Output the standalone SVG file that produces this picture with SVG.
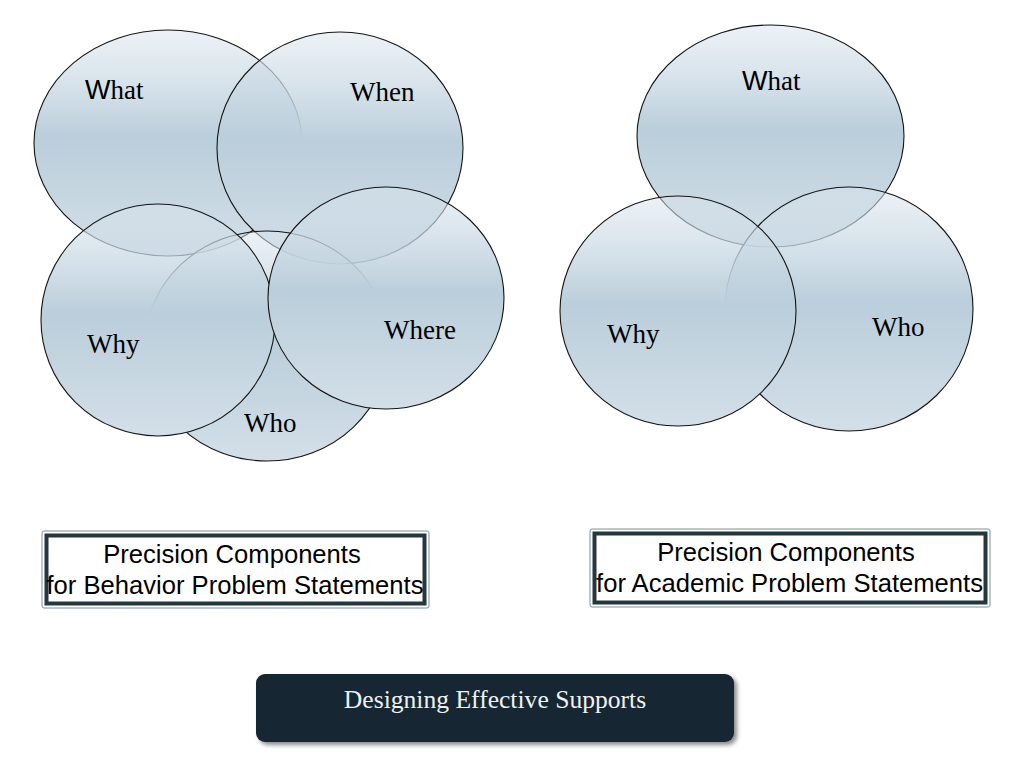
<svg xmlns="http://www.w3.org/2000/svg" width="1024" height="768" viewBox="0 0 1024 768">
<defs>
<linearGradient id="vfill" x1="0" y1="0" x2="0" y2="1">
<stop offset="0" stop-color="#d9e4ed" stop-opacity="0.5"/>
<stop offset="0.47" stop-color="#bacedb" stop-opacity="1"/>
<stop offset="1" stop-color="#d3dfe8" stop-opacity="1"/>
</linearGradient>
<filter id="shadow" x="-5%" y="-20%" width="112%" height="150%">
<feDropShadow dx="3" dy="3" stdDeviation="2" flood-color="#000" flood-opacity="0.45"/>
</filter>
</defs>
<style>
.venn{fill:url(#vfill);stroke:#141414;stroke-width:1.1}
.lbl{font-family:"Liberation Serif","Times New Roman",serif;font-size:27px;fill:#000}
.w{font-family:"Liberation Sans",Arial,sans-serif}
.boxo{fill:#fff;stroke:#7f9099;stroke-width:1}
.boxi{fill:none;stroke:#24373f;stroke-width:4}
.btxt{font-family:"Liberation Sans",Arial,sans-serif;font-size:25.6px;fill:#000;text-anchor:middle}
</style>
<rect width="1024" height="768" fill="#fff"/>

<g id="behavior-venn">
<g id="b-what"><ellipse class="venn" cx="168" cy="143" rx="134" ry="113"/><text class="lbl" x="85" y="99"><tspan class="w">W</tspan>hat</text></g>
<g id="b-when"><ellipse class="venn" cx="340" cy="148" rx="123" ry="116"/><text class="lbl" x="350" y="101">When</text></g>
<g id="b-who"><ellipse class="venn" cx="267" cy="346" rx="122" ry="115"/><text class="lbl" x="244" y="432">Who</text></g>
<g id="b-why"><ellipse class="venn" cx="158" cy="320" rx="117" ry="116"/><text class="lbl" x="87" y="353">Why</text></g>
<g id="b-where"><ellipse class="venn" cx="386" cy="298" rx="118" ry="111"/><text class="lbl" x="384" y="339">Where</text></g>
</g>

<g id="academic-venn">
<g id="a-what"><ellipse class="venn" cx="770.5" cy="136" rx="133.5" ry="111"/><text class="lbl" x="742" y="90"><tspan class="w">W</tspan>hat</text></g>
<g id="a-who"><ellipse class="venn" cx="849" cy="309" rx="124" ry="122"/><text class="lbl" x="872" y="336">Who</text></g>
<g id="a-why"><ellipse class="venn" cx="678" cy="311" rx="118" ry="115"/><text class="lbl" x="607" y="343">Why</text></g>
</g>

<g id="behavior-title">
<rect class="boxo" x="42" y="531" width="387" height="77" rx="2"/>
<rect class="boxi" x="46.5" y="535.5" width="378" height="68"/>
<text class="btxt" x="232" y="563">Precision Components</text>
<text class="btxt" x="235" y="594">for Behavior Problem Statements</text>
</g>

<g id="academic-title">
<rect class="boxo" x="590" y="529" width="400" height="78" rx="2"/>
<rect class="boxi" x="594.5" y="533.5" width="391" height="69"/>
<text class="btxt" x="786" y="561">Precision Components</text>
<text class="btxt" x="789.5" y="592">for Academic Problem Statements</text>
</g>

<g id="banner">
<rect x="256" y="674" width="478" height="68" rx="9" fill="#152630" filter="url(#shadow)"/>
<text x="495" y="708" font-family="'Liberation Serif','Times New Roman',serif" font-size="25.6" fill="#eef2f4" text-anchor="middle">Designing Effective Supports</text>
</g>
</svg>
